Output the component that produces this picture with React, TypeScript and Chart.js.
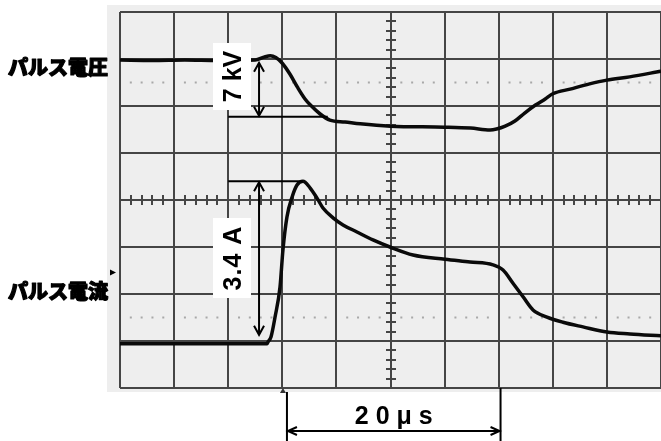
import { useEffect, useRef } from "react";
import { Chart, registerables } from "chart.js";

Chart.register(...registerables);

// Time axis: microseconds (5 µs per division, 10 divisions)
const X_MIN = 0;
const X_MAX = 50;
const X_DIV = 5;
// Vertical axis: screen divisions (8 divisions)
const Y_MIN = 0;
const Y_MAX = 8;
const Y_DIV = 1;

// Pulse voltage trace (time µs, level in divisions)
const voltageTime = [0, 3, 6, 9, 12.5, 13.3, 13.9, 14.4, 15, 15.7, 16.4, 17.1, 17.6, 18.5, 19.4, 20.8, 22.2, 25, 30, 32.4, 34.2, 34.8, 35.6, 36.5, 37.4, 38.4, 39.3, 40, 41.6, 43.4, 45, 47.1, 50];
const voltageLevel = [6.98, 6.97, 6.98, 6.97, 6.98, 7.04, 7.07, 7.03, 6.91, 6.68, 6.4, 6.15, 6.02, 5.83, 5.7, 5.66, 5.62, 5.57, 5.55, 5.53, 5.49, 5.51, 5.57, 5.68, 5.85, 6.02, 6.15, 6.26, 6.36, 6.47, 6.55, 6.62, 6.74];

// Pulse current trace (time µs, level in divisions)
const currentTime = [0, 4, 8, 12, 13.59, 13.68, 13.96, 14.33, 14.79, 15.06, 15.43, 15.9, 16.36, 16.91, 17.56, 18.21, 18.76, 19.69, 20.61, 21.9, 23.38, 24.95, 27.08, 30.04, 32.35, 34.47, 35.4, 36.32, 37.25, 38.17, 39.46, 40.94, 42.79, 45.01, 47.13, 50];
const currentLevel = [0.94, 0.94, 0.94, 0.94, 0.94, 0.98, 1.09, 1.51, 2.15, 2.94, 3.64, 4.06, 4.32, 4.4, 4.26, 4.04, 3.83, 3.62, 3.47, 3.32, 3.15, 3.0, 2.83, 2.74, 2.68, 2.62, 2.51, 2.23, 1.94, 1.66, 1.51, 1.4, 1.3, 1.19, 1.15, 1.11];

// Trace labels
const traceLabels = ["パルス電圧", "パルス電流"];
const traceLabelLevels = [6.83, 2.05];

const voltageMeasure = { label: "7 kV", x: 12.85, top: 6.94, bottom: 5.77, lineFrom: 10, lineTo: 19.2 };
const currentMeasure = { label: "3.4 A", x: 12.85, top: 4.4, bottom: 1.11, lineFrom: 10, lineTo: 16.9 };
const timeMeasure = { label: "2 0 μ s", from: 15.43, to: 35.17 };
const triggerTime = 15.06;
const groundMarkerLevel = 2.46;

function chevron(ctx: CanvasRenderingContext2D, x: number, y: number, dx: number, dy: number, len: number, half: number) {
  const px = -dy, py = dx;
  ctx.beginPath();
  ctx.moveTo(x - dx * len + px * half, y - dy * len + py * half);
  ctx.lineTo(x, y);
  ctx.lineTo(x - dx * len - px * half, y - dy * len - py * half);
  ctx.stroke();
}

const scopePlugin = {
  id: "scope",
  beforeDatasetsDraw(chart: any) {
    const { ctx, chartArea, scales } = chart;
    const xs = scales.x, ys = scales.y;
    const L = chartArea.left, R = chartArea.right, T = chartArea.top, B = chartArea.bottom;
    ctx.save();
    ctx.fillStyle = "#eeeeee";
    ctx.fillRect(L - 13, T - 7, R - L + 13, B - T + 11);

    const dx = (xs.getPixelForValue(X_DIV) - xs.getPixelForValue(0)) / 5;
    const dy = (ys.getPixelForValue(0) - ys.getPixelForValue(Y_DIV)) / 5;

    // dotted reference lines
    ctx.fillStyle = "#a8a8a8";
    for (const lv of [6.5, 1.5]) {
      const py = ys.getPixelForValue(lv);
      for (let i = 1; i < 50; i++) {
        if (i % 5 === 0) continue;
        const px = L + i * dx;
        ctx.fillRect(px - 1, py - 1, 2, 2);
      }
    }

    // graticule
    ctx.strokeStyle = "#454545";
    ctx.lineWidth = 2;
    ctx.beginPath();
    for (let t = X_MIN; t <= X_MAX; t += X_DIV) {
      const px = Math.round(xs.getPixelForValue(t));
      ctx.moveTo(px, T);
      ctx.lineTo(px, B);
    }
    for (let v = Y_MIN; v <= Y_MAX; v += Y_DIV) {
      const py = Math.round(ys.getPixelForValue(v));
      ctx.moveTo(L, py);
      ctx.lineTo(R, py);
    }
    ctx.stroke();

    // centre-axis minor ticks
    const cx = Math.round(xs.getPixelForValue((X_MIN + X_MAX) / 2));
    const cy = Math.round(ys.getPixelForValue((Y_MIN + Y_MAX) / 2));
    ctx.lineWidth = 2;
    ctx.beginPath();
    for (let i = 1; i < 40; i++) {
      if (i % 5 === 0) continue;
      const py = Math.round(T + i * dy);
      ctx.moveTo(cx - 5, py);
      ctx.lineTo(cx + 5, py);
    }
    for (let i = 1; i < 50; i++) {
      if (i % 5 === 0) continue;
      const px = Math.round(L + i * dx);
      ctx.moveTo(px, cy - 5);
      ctx.lineTo(px, cy + 5);
    }
    ctx.stroke();

    // trigger marker and ground marker
    ctx.fillStyle = "#333";
    const tx = xs.getPixelForValue(triggerTime);
    ctx.beginPath();
    ctx.moveTo(tx - 3, B + 5);
    ctx.lineTo(tx + 3, B + 5);
    ctx.lineTo(tx, B);
    ctx.closePath();
    ctx.fill();
    const gy = ys.getPixelForValue(groundMarkerLevel);
    ctx.fillStyle = "#000";
    ctx.beginPath();
    ctx.moveTo(L - 10, gy - 3);
    ctx.lineTo(L - 10, gy + 3);
    ctx.lineTo(L - 4, gy);
    ctx.closePath();
    ctx.fill();
    ctx.restore();
  },
  afterDatasetsDraw(chart: any) {
    const { ctx, chartArea, scales } = chart;
    const xs = scales.x, ys = scales.y;
    const B = chartArea.bottom;
    ctx.save();
    ctx.strokeStyle = "#000";
    ctx.lineWidth = 2;
    ctx.lineCap = "butt";

    const boxes = [
      { m: voltageMeasure, boxTop: 43, boxBottom: 110 },
      { m: currentMeasure, boxTop: 218, boxBottom: 298 },
    ];
    for (const { m, boxTop, boxBottom } of boxes) {
      const ax = xs.getPixelForValue(m.x);
      const yTop = ys.getPixelForValue(m.top);
      const yBot = ys.getPixelForValue(m.bottom);
      ctx.fillStyle = "#ffffff";
      ctx.fillRect(213, boxTop, 38, boxBottom - boxTop);
      const refY = m === voltageMeasure ? yBot : yTop;
      ctx.beginPath();
      ctx.moveTo(xs.getPixelForValue(m.lineFrom), refY);
      ctx.lineTo(xs.getPixelForValue(m.lineTo), refY);
      ctx.stroke();
      ctx.beginPath();
      ctx.moveTo(ax, yTop + 1);
      ctx.lineTo(ax, yBot - 1);
      ctx.stroke();
      chevron(ctx, ax, yTop + 1, 0, -1, 9, 5);
      chevron(ctx, ax, yBot - 1, 0, 1, 9, 5);
      ctx.save();
      ctx.fillStyle = "#000000";
      ctx.translate(234, (boxTop + boxBottom) / 2);
      ctx.rotate(-Math.PI / 2);
      ctx.font = "bold 25px 'Liberation Sans', Arial, sans-serif";
      (ctx as any).letterSpacing = m === currentMeasure ? "1px" : "0px";
      ctx.textAlign = "center";
      ctx.textBaseline = "middle";
      ctx.fillText(m.label, 0, 0);
      ctx.restore();
    }

    // time measurement
    ctx.fillStyle = "#000000";
    const x1 = xs.getPixelForValue(timeMeasure.from);
    const x2 = xs.getPixelForValue(timeMeasure.to);
    const ay = 431;
    ctx.lineWidth = 2;
    ctx.beginPath();
    ctx.moveTo(x1, B + 4);
    ctx.lineTo(x1, 441);
    ctx.moveTo(x2, B);
    ctx.lineTo(x2, 441);
    ctx.moveTo(x1 + 1, ay);
    ctx.lineTo(x2 - 1, ay);
    ctx.stroke();
    chevron(ctx, x1 + 1, ay, -1, 0, 9, 4);
    chevron(ctx, x2 - 1, ay, 1, 0, 9, 4);
    ctx.font = "bold 25px 'Liberation Sans', Arial, sans-serif";
    ctx.textAlign = "center";
    ctx.textBaseline = "middle";
    ctx.fillText(timeMeasure.label, (x1 + x2) / 2, 417);

    // trace labels (heavy)
    ctx.font = "900 20px 'Noto Sans CJK JP', sans-serif";
    ctx.textAlign = "left";
    ctx.textBaseline = "middle";
    ctx.lineWidth = 1.2;
    ctx.lineJoin = "round";
    traceLabels.forEach((lab, i) => {
      const yy = ys.getPixelForValue(traceLabelLevels[i]);
      ctx.fillText(lab, 8, yy);
      ctx.strokeText(lab, 8, yy);
    });
    ctx.restore();
  },
};

export default function App() {
  const ref = useRef<HTMLCanvasElement | null>(null);
  useEffect(() => {
    if (!ref.current) return;
    const chart = new Chart(ref.current, {
      type: "line",
      data: {
        datasets: [
          {
            label: traceLabels[0],
            data: voltageTime.map((t, i) => ({ x: t, y: voltageLevel[i] })),
            borderColor: "#0a0a0a",
            borderWidth: 3.5,
            pointRadius: 0,
            cubicInterpolationMode: "monotone",
          },
          {
            label: traceLabels[1],
            data: currentTime.map((t, i) => ({ x: t, y: currentLevel[i] })),
            borderColor: "#0a0a0a",
            borderWidth: 3.5,
            pointRadius: 0,
            cubicInterpolationMode: "monotone",
          },
        ],
      },
      options: {
        animation: false,
        responsive: false,
        events: [],
        layout: { padding: { left: 120, top: 12, right: 0, bottom: 53 } },
        plugins: { legend: { display: false }, tooltip: { enabled: false } },
        scales: {
          x: { type: "linear", min: X_MIN, max: X_MAX, display: false },
          y: { type: "linear", min: Y_MIN, max: Y_MAX, display: false },
        },
      },
      plugins: [scopePlugin],
    });
    return () => chart.destroy();
  }, []);
  return (
    <div style={{ position: "fixed", left: 0, top: 0, width: 661, height: 441, background: "#fff" }}>
      <canvas ref={ref} width={661} height={441} style={{ display: "block" }} />
    </div>
  );
}
